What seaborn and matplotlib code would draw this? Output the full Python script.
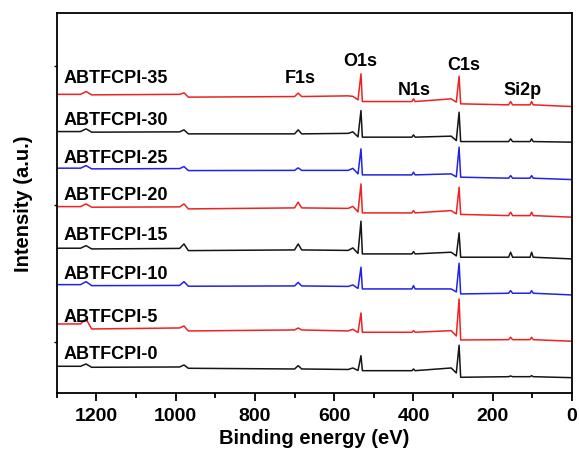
import matplotlib
matplotlib.use("Agg")
import matplotlib.pyplot as plt
import seaborn as sns
import pandas as pd
from matplotlib.ticker import MultipleLocator

# ---------------- data ----------------
samples = ["ABTFCPI-35", "ABTFCPI-30", "ABTFCPI-25", "ABTFCPI-20",
           "ABTFCPI-15", "ABTFCPI-10", "ABTFCPI-5", "ABTFCPI-0"]
line_colors = ["#EE2222", "#151515", "#2222E6", "#EE2222",
               "#151515", "#2222E6", "#EE2222", "#151515"]

# stacked intensity (a.u.) of each spectrum at characteristic points
lvl_start   = [298.5, 261.3, 224.7, 186.3, 144.7, 108.3, 69.0, 26.7]
lvl_bump1   = [301.3, 264.0, 227.3, 189.0, 147.3, 111.3, 74.0, 29.0]
lvl_after1  = [298.0, 260.7, 224.0, 185.7, 144.0, 107.3, 64.0, 25.7]
lvl_pre2    = [298.5, 261.0, 224.3, 186.0, 144.5, 107.5, 65.0, 26.0]
lvl_bump2   = [300.0, 263.0, 226.3, 189.0, 149.0, 111.3, 67.0, 28.0]
lvl_after2  = [295.7, 259.0, 222.3, 184.0, 142.3, 106.7, 62.0, 24.7]
lvl_fbase   = [296.3, 259.0, 222.5, 185.0, 143.0, 107.0, 63.0, 24.0]
lvl_f1s     = [299.7, 263.0, 225.0, 190.7, 149.0, 110.5, 65.0, 27.3]
lvl_preO    = [297.0, 259.5, 222.5, 184.5, 142.5, 106.5, 62.0, 23.5]
lvl_humpO   = [296.5, 261.0, 224.5, 186.5, 145.0, 108.0, 63.7, 25.0]
lvl_dipO    = [293.0, 256.0, 219.0, 181.0, 139.5, 104.5, 60.5, 22.5]
lvl_o1s     = [319.0, 282.3, 244.0, 209.0, 171.7, 125.7, 80.0, 37.3]
lvl_afterO  = [291.3, 255.7, 218.0, 180.0, 139.0, 104.0, 60.7, 22.3]
lvl_n1s     = [294.0, 258.0, 220.7, 182.3, 141.3, 107.3, 62.3, 24.0]
lvl_preC    = [294.0, 256.7, 219.0, 182.3, 140.7, 104.0, 62.3, 25.0]
lvl_dipC    = [290.7, 252.3, 216.0, 179.0, 137.0, 101.0, 57.0, 20.0]
lvl_c1s     = [316.7, 280.7, 245.7, 205.7, 160.0, 129.7, 94.0, 47.7]
lvl_afterC  = [289.0, 251.3, 215.7, 178.5, 135.7, 99.0, 53.0, 15.7]
lvl_sibase  = [288.0, 251.3, 214.7, 177.3, 135.7, 99.7, 53.3, 16.3]
lvl_si2s    = [291.3, 254.0, 217.3, 180.7, 140.7, 102.3, 55.7, 17.0]
lvl_si2p    = [291.3, 254.0, 217.3, 180.7, 140.7, 102.3, 55.7, 17.3]
lvl_end     = [286.3, 250.7, 213.3, 175.7, 134.0, 98.0, 51.7, 15.3]

# binding energy (eV) of each point along a spectrum and which level it takes
energy_points = [1300, 1240, 1226, 1212, 990, 979, 968, 700, 691, 682,
                 565, 553, 540, 532.5, 529, 404, 400, 396, 305, 292,
                 285, 281, 160, 155, 150, 106, 102, 98, 0]
point_levels = [lvl_start, lvl_start, lvl_bump1, lvl_after1, lvl_pre2,
                lvl_bump2, lvl_after2, lvl_fbase, lvl_f1s, lvl_fbase,
                lvl_preO, lvl_humpO, lvl_dipO, lvl_o1s, lvl_afterO,
                lvl_afterO, lvl_n1s, lvl_afterO, lvl_preC, lvl_dipC,
                lvl_c1s, lvl_afterC, lvl_sibase, lvl_si2s, lvl_sibase,
                lvl_sibase, lvl_si2p, lvl_sibase, lvl_end]

# text annotations
sample_label_y = [315, 273, 235, 198, 158, 119, 76, 39]
peak_names = ["F1s", "O1s", "N1s", "C1s", "Si2p"]
peak_label_x = [686, 534, 398, 272, 126]
peak_label_y = [315, 332, 303, 328, 303]

x_ticks = [1200, 1000, 800, 600, 400, 200, 0]

# ---------------- build long-form table ----------------
rows = []
for i, name in enumerate(samples):
    for e, lv in zip(energy_points, point_levels):
        rows.append({"sample": name, "energy": e, "intensity": lv[i]})
df = pd.DataFrame(rows)

# ---------------- plot ----------------
sns.set_theme(style="ticks", rc={"text.color": "black", "axes.labelcolor": "black",
                                 "xtick.color": "black", "ytick.color": "black",
                                 "axes.edgecolor": "black"})
plt.rcParams["font.family"] = ["Liberation Sans", "DejaVu Sans"]

fig = plt.figure(figsize=(5.79, 4.60), dpi=100)
ax = fig.add_axes([0.098, 0.1435, 0.890, 0.8265])

sns.lineplot(data=df, x="energy", y="intensity", hue="sample",
             hue_order=samples, palette=dict(zip(samples, line_colors)),
             sort=False, estimator=None, linewidth=1.1, legend=False, ax=ax)

ax.set_xlim(1300, 0)
ax.set_ylim(0, 380)
ax.set_xticks(x_ticks)
ax.set_xticklabels([str(t) for t in x_ticks], fontsize=14, fontweight="bold")
ax.xaxis.set_minor_locator(MultipleLocator(100))
ax.tick_params(axis="x", which="major", direction="out", length=6, width=1.3, pad=4)
ax.tick_params(axis="x", which="minor", direction="out", length=3.5, width=1.3)
ax.set_yticks([51, 188, 327])
ax.set_yticklabels([])
ax.tick_params(axis="y", which="major", direction="out", length=2.5, width=1.0)

for sp in ax.spines.values():
    sp.set_linewidth(1.3)
    sp.set_color("black")

ax.set_xlabel("Binding energy (eV)", fontsize=14.5, fontweight="bold", labelpad=3)
ax.set_ylabel("Intensity (a.u.)", fontsize=14.5, fontweight="bold", labelpad=11)

for name, yv in zip(samples, sample_label_y):
    ax.text(1283, yv, name, fontsize=13, fontweight="bold",
            ha="left", va="center", color="black")
for name, xv, yv in zip(peak_names, peak_label_x, peak_label_y):
    ax.text(xv, yv, name, fontsize=13, fontweight="bold",
            ha="center", va="center", color="black")

fig.savefig("out.png", dpi=100)
